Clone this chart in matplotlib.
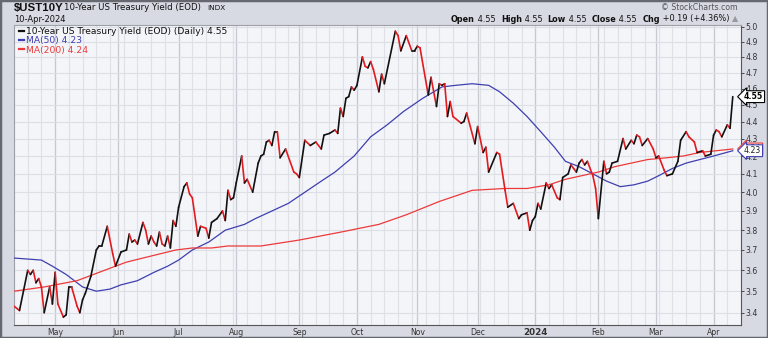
import matplotlib
matplotlib.use("Agg")
import matplotlib.pyplot as plt
import numpy as np
import pandas as pd
from matplotlib.collections import LineCollection
from matplotlib.lines import Line2D
from matplotlib.patches import Rectangle
from matplotlib.ticker import FixedLocator, NullLocator

# sessions are weekdays counted from the first bar of the chart
first_day = "2023-04-10"
last_day = "2024-04-10"

px_session = [0, 2, 5, 6, 7, 8, 9, 10, 11, 13, 14, 15, 16, 18, 19, 20, 21, 23, 24, 25,
              26, 28, 30, 31, 32, 34, 36, 37, 39, 41, 42, 43, 44, 45, 47, 48, 49, 50, 51, 52,
              53, 54, 55, 56, 57, 58, 59, 60, 62, 63, 64, 65, 67, 68, 70, 71, 72, 73, 74, 76,
              77, 78, 79, 80, 81, 83, 84, 85, 87, 89, 90, 91, 92, 93, 94, 95, 96, 97, 99, 102,
              103, 104, 106, 108, 110, 112, 113, 115, 117, 118, 119, 120, 121, 122, 123, 124, 125, 127, 128, 129,
              130, 131, 133, 134, 135, 139, 140, 141, 143, 145, 146, 147, 148, 151, 152, 154, 155, 156, 157, 158,
              159, 160, 163, 164, 165, 168, 169, 171, 172, 173, 176, 177, 179, 180, 182, 184, 185, 187, 188, 189,
              190, 191, 192, 194, 195, 196, 198, 199, 200, 202, 203, 204, 205, 206, 207, 208, 209, 211, 212, 213,
              215, 216, 217, 218, 220, 222, 223, 225, 226, 227, 228, 229, 231, 233, 234, 235, 237, 238, 240, 242,
              243, 245, 246, 248, 249, 251, 252, 254, 255, 256, 257, 258, 260, 261, 262]
px_close = [3.43, 3.41, 3.60, 3.58, 3.60, 3.54, 3.56, 3.52, 3.40, 3.52, 3.44, 3.59, 3.44, 3.38, 3.39, 3.52, 3.52, 3.43, 3.40, 3.46,
            3.49, 3.57, 3.70, 3.72, 3.72, 3.82, 3.68, 3.62, 3.69, 3.70, 3.78, 3.74, 3.75, 3.73, 3.84, 3.80, 3.73, 3.77, 3.74, 3.72,
            3.79, 3.73, 3.72, 3.77, 3.71, 3.85, 3.82, 3.92, 4.03, 4.05, 3.99, 3.97, 3.77, 3.82, 3.81, 3.76, 3.84, 3.85, 3.86, 3.90,
            3.85, 4.01, 3.96, 3.97, 4.05, 4.20, 4.05, 4.07, 4.00, 4.16, 4.20, 4.21, 4.28, 4.29, 4.26, 4.34, 4.34, 4.19, 4.24, 4.11,
            4.10, 4.08, 4.29, 4.26, 4.28, 4.24, 4.32, 4.33, 4.35, 4.33, 4.48, 4.43, 4.54, 4.55, 4.61, 4.59, 4.62, 4.80, 4.74, 4.73,
            4.77, 4.72, 4.58, 4.69, 4.63, 4.97, 4.94, 4.84, 4.94, 4.84, 4.84, 4.87, 4.86, 4.56, 4.67, 4.49, 4.63, 4.62, 4.63, 4.43,
            4.52, 4.43, 4.39, 4.40, 4.45, 4.27, 4.37, 4.22, 4.25, 4.11, 4.22, 4.21, 4.01, 3.92, 3.94, 3.86, 3.88, 3.89, 3.80, 3.85,
            3.87, 3.94, 3.91, 4.05, 4.02, 4.04, 3.97, 3.96, 4.08, 4.10, 4.15, 4.13, 4.11, 4.16, 4.18, 4.15, 4.17, 4.09, 4.02, 3.86,
            4.17, 4.10, 4.11, 4.16, 4.17, 4.30, 4.24, 4.29, 4.27, 4.32, 4.31, 4.26, 4.30, 4.24, 4.19, 4.20, 4.12, 4.09, 4.10, 4.17,
            4.29, 4.34, 4.31, 4.28, 4.22, 4.23, 4.20, 4.21, 4.32, 4.35, 4.34, 4.31, 4.38, 4.36, 4.55]

ma50_session = [0, 10, 14, 19, 25, 30, 35, 39, 45, 51, 56, 60, 65, 71, 77, 84, 88, 100, 112, 117,
                124, 130, 136, 142, 149, 156, 161, 167, 173, 177, 182, 187, 192, 197, 201, 206, 211, 216, 221, 226,
                231, 235, 240, 245, 250, 255, 262]
ma50_value = [3.66, 3.65, 3.62, 3.58, 3.52, 3.50, 3.51, 3.53, 3.55, 3.59, 3.62, 3.65, 3.70, 3.74, 3.80, 3.83, 3.86, 3.94, 4.06, 4.11,
              4.20, 4.31, 4.38, 4.46, 4.54, 4.61, 4.62, 4.63, 4.62, 4.58, 4.51, 4.43, 4.34, 4.25, 4.17, 4.14, 4.10, 4.06, 4.03, 4.04,
              4.06, 4.09, 4.13, 4.16, 4.18, 4.20, 4.23]

ma200_session = [0, 11, 23, 29, 35, 41, 47, 53, 59, 65, 72, 78, 90, 104, 119, 133, 143, 155, 167, 179,
                 187, 195, 201, 207, 213, 219, 225, 231, 238, 244, 250, 256, 262]
ma200_value = [3.50, 3.52, 3.55, 3.58, 3.61, 3.64, 3.66, 3.68, 3.70, 3.71, 3.71, 3.72, 3.72, 3.75, 3.79, 3.83, 3.88, 3.95, 4.01, 4.02,
               4.02, 4.04, 4.07, 4.09, 4.11, 4.14, 4.16, 4.18, 4.19, 4.20, 4.22, 4.23, 4.24]

y_ticks = [3.4, 3.5, 3.6, 3.7, 3.8, 3.9, 4.0, 4.1, 4.2, 4.3, 4.4, 4.5, 4.6, 4.7, 4.8, 4.9, 5.0]
month_labels = ["May", "Jun", "Jul", "Aug", "Sep", "Oct", "Nov", "Dec", "2024", "Feb", "Mar", "Apr"]

W, H = 768, 338
BG = "#d7dae3"
PLOT_BG = "#f4f5f9"
UP, DOWN = "#111111", "#e31b1f"
MA50_C, MA200_C = "#3f3fb0", "#ec3a3a"


def fx(px):
    return px / W


def fy(py):
    return 1 - py / H


sessions = pd.bdate_range(first_day, last_day)
month_pos = []
for i in range(1, len(sessions)):
    if sessions[i].month != sessions[i - 1].month:
        month_pos.append(i)

fig = plt.figure(figsize=(W / 100, H / 100), dpi=100, facecolor=BG)
ax = fig.add_axes([fx(14), fy(325), fx(741) - fx(14), fy(24.5) - fy(325)])
ax.set_facecolor(PLOT_BG)
ax.set_yscale("log")
ax.set_ylim(3.344, 5.015)
ax.set_xlim(0, 265)

# grid: weekly lines, darker ones at month starts, horizontal every 0.1
for i in range(0, len(sessions)):
    if sessions[i].weekday() == 0:
        ax.axvline(i, color="#dfe1e7", lw=0.8, zorder=0)
for i in month_pos:
    ax.axvline(i, color="#c6c9d0", lw=0.9, zorder=0)
for v in y_ticks:
    ax.axhline(v, color="#dcdfe5", lw=0.8, zorder=0)

# price line, black on up days and red on down days
pts = np.column_stack([px_session, px_close])
segs = np.stack([pts[:-1], pts[1:]], axis=1)
cols = [UP if b >= a else DOWN for a, b in zip(px_close[:-1], px_close[1:])]
lc = LineCollection(segs, colors=cols, linewidths=1.2, capstyle="round", joinstyle="round", zorder=4)
ax.add_collection(lc)

ax.plot(ma50_session, ma50_value, color=MA50_C, lw=0.9, zorder=3)
ax.plot(ma200_session, ma200_value, color=MA200_C, lw=0.9, zorder=3)

# axes
ax.yaxis.tick_right()
ax.yaxis.set_major_locator(FixedLocator(y_ticks))
ax.yaxis.set_minor_locator(NullLocator())
ax.set_yticklabels(["%.1f" % v for v in y_ticks])
ax.tick_params(axis="y", which="major", direction="out", length=2, width=0.6,
               pad=1, labelsize=5.6, colors="#333333")
ax.xaxis.set_major_locator(FixedLocator(month_pos))
ax.set_xticklabels(month_labels)
ax.tick_params(axis="x", length=0, pad=2, labelsize=5.6, colors="#333333")
for lab in ax.get_xticklabels():
    if lab.get_text() == "2024":
        lab.set_fontweight("bold")
        lab.set_fontsize(6.3)

for side in ["left", "top"]:
    ax.spines[side].set_color("#9ea1a8")
    ax.spines[side].set_linewidth(0.8)
for side in ["right", "bottom"]:
    ax.spines[side].set_color("#555555")
    ax.spines[side].set_linewidth(0.8)
    ax.spines[side].set_linestyle((0, (1, 1)))

# legend
handles = [Line2D([], [], color=UP, lw=1.6),
           Line2D([], [], color=MA50_C, lw=1.6),
           Line2D([], [], color=MA200_C, lw=1.6)]
labels = ["10-Year US Treasury Yield (EOD) (Daily) %.2f" % px_close[-1],
          "MA(50) %.2f" % ma50_value[-1],
          "MA(200) %.2f" % ma200_value[-1]]
leg = ax.legend(handles, labels, loc="upper left", bbox_to_anchor=(-0.002, 1.012),
                frameon=False, fontsize=6.6, handlelength=0.6, handletextpad=0.2,
                labelspacing=0.02, borderaxespad=0.3, labelcolor=[UP, MA50_C, MA200_C])

# value tags on the right edge
tr = ax.get_yaxis_transform()
ax.text(1.004, ma200_value[-1], "%.2f" % ma200_value[-1], transform=tr, fontsize=5.6,
        va="center", ha="left", color="#222222", clip_on=False, zorder=5,
        bbox=dict(boxstyle="larrow,pad=0.18", fc="white", ec=MA200_C, lw=0.8))
ax.text(1.004, ma50_value[-1], "%.2f" % ma50_value[-1], transform=tr, fontsize=5.6,
        va="center", ha="left", color="#222222", clip_on=False, zorder=6,
        bbox=dict(boxstyle="larrow,pad=0.18", fc="white", ec=MA50_C, lw=0.8))
ax.text(1.004, px_close[-1], "%.2f" % px_close[-1], transform=tr, fontsize=5.6,
        fontweight="bold", va="center", ha="left", color="black", clip_on=False, zorder=6,
        bbox=dict(boxstyle="larrow,pad=0.18", fc="white", ec="black", lw=0.8))

# header
fig.text(fx(14), fy(7.5), "$UST10Y", fontsize=8.2, fontweight="bold", va="center",
         color="#111111", family="Liberation Sans")
fig.text(fx(64), fy(7.5), "10-Year US Treasury Yield (EOD)", fontsize=6.2, va="center", color="#111111")
fig.text(fx(207), fy(7.5), "INDX", fontsize=5.2, va="center", color="#111111")
fig.text(fx(14), fy(19), "10-Apr-2024", fontsize=6.0, va="center", color="#111111")
fig.text(fx(738), fy(7), "\u00a9 StockCharts.com", fontsize=5.6, ha="right", va="center", color="#555555")

chg = px_close[-1] - px_close[-2]
parts = [("Open", True), (" %.2f  " % px_close[-1], False),
         ("High", True), (" %.2f  " % px_close[-1], False),
         ("Low", True), (" %.2f  " % px_close[-1], False),
         ("Close", True), (" %.2f  " % px_close[-1], False),
         ("Chg", True), (" %+.2f (%+.2f%%) " % (chg, chg / px_close[-2] * 100), False),
         ("\u25b2", False)]
fig.canvas.draw()
rend = fig.canvas.get_renderer()
x = 451
for s, bold in parts:
    t = fig.text(fx(x), fy(19), s, fontsize=5.9, fontweight="bold" if bold else "normal",
                 va="center", color="#999999" if s == "\u25b2" else "#111111")
    x += t.get_window_extent(rend).width

fig.patches.append(Rectangle((0, 0), 1, 1, transform=fig.transFigure, fill=False,
                             ec="#666870", lw=2.5))

fig.savefig("out.png", dpi=100, facecolor=BG)
